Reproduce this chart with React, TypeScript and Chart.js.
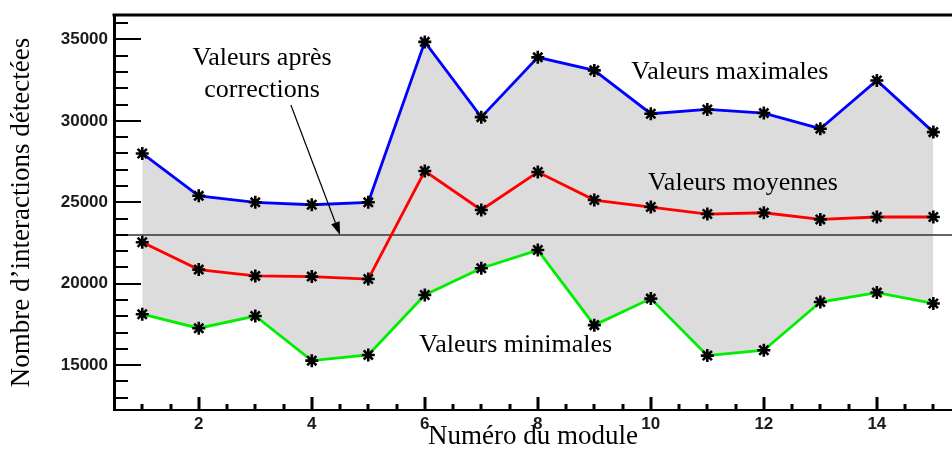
import React, { useEffect, useRef } from "react";
import { Chart, registerables } from "chart.js";

Chart.register(...registerables);

// Module numbers and detected interaction counts per module
const modules = [1, 2, 3, 4, 5, 6, 7, 8, 9, 10, 11, 12, 13, 14, 15];
const maxValues = [28000, 25400, 25000, 24850, 25000, 34850, 30230, 33900, 33100, 30440, 30700, 30480, 29520, 32480, 29310];
const meanValues = [22550, 20870, 20480, 20440, 20290, 26920, 24530, 26860, 25140, 24710, 24280, 24360, 23950, 24100, 24100];
const minValues = [18130, 17270, 18020, 15280, 15630, 19310, 20950, 22070, 17460, 19090, 15590, 15920, 18880, 19460, 18790];

// Axis tick values (labelled and unlabelled)
const xLabelTicks = [2, 4, 6, 8, 10, 12, 14];
const yLabelTicks = [15000, 20000, 25000, 30000, 35000];

// Level of the values after corrections
const correctedLevel = 23000;

const xTitle = "Numéro du module";
const yTitle = "Nombre d’interactions détectées";

// Text annotations placed in data units
const notes = [
  { lines: ["Valeurs après", "corrections"], x: 3.12, y: 33850 },
  { lines: ["Valeurs maximales"], x: 11.4, y: 33000 },
  { lines: ["Valeurs moyennes"], x: 11.63, y: 26180 },
  { lines: ["Valeurs minimales"], x: 7.61, y: 16250 },
];
const arrowFrom = { x: 3.63, y: 30970 };
const arrowTo = { x: 4.5, y: correctedLevel };

const SERIF = "'Liberation Serif', 'Times New Roman', serif";
const SANS = "'Liberation Sans', Arial, sans-serif";

const decorations = {
  id: "decorations",
  beforeDatasetsDraw(chart: any) {
    const { ctx, chartArea, scales } = chart;
    const y = scales.y.getPixelForValue(correctedLevel);
    ctx.save();
    ctx.strokeStyle = "#333";
    ctx.lineWidth = 1.5;
    ctx.beginPath();
    ctx.moveTo(chartArea.left, y);
    ctx.lineTo(chartArea.right, y);
    ctx.stroke();
    ctx.restore();
  },
  afterDatasetsDraw(chart: any) {
    const { ctx, chartArea, scales } = chart;
    const xs = scales.x;
    const ys = scales.y;
    ctx.save();

    // frame top
    ctx.fillStyle = "#000";
    ctx.fillRect(chartArea.left - 1.5, chartArea.top - 1.5, chartArea.right - chartArea.left + 3, 3);

    // y tick marks every 1000, pointing inward
    ctx.strokeStyle = "#000";
    ctx.lineWidth = 2;
    for (let v = Math.ceil(ys.min / 1000) * 1000; v <= ys.max; v += 1000) {
      const py = Math.round(ys.getPixelForValue(v));
      const len = v % 5000 === 0 ? 27 : 14;
      ctx.beginPath();
      ctx.moveTo(chartArea.left, py);
      ctx.lineTo(chartArea.left + len, py);
      ctx.stroke();
    }

    // x tick marks every 0.5, pointing upward
    ctx.lineWidth = 3;
    for (let k = Math.ceil(xs.min * 2); k / 2 <= xs.max; k++) {
      const v = k / 2;
      if (v <= xs.min) continue;
      const px = Math.round(xs.getPixelForValue(v));
      const major = Number.isInteger(v) && v % 2 === 0;
      const len = major ? 13 : 6;
      ctx.beginPath();
      ctx.moveTo(px, chartArea.bottom);
      ctx.lineTo(px, chartArea.bottom - len);
      ctx.stroke();
    }

    // arrow to the corrected level line
    const ax0 = xs.getPixelForValue(arrowFrom.x);
    const ay0 = ys.getPixelForValue(arrowFrom.y);
    const ax1 = xs.getPixelForValue(arrowTo.x);
    const ay1 = ys.getPixelForValue(arrowTo.y);
    const ang = Math.atan2(ay1 - ay0, ax1 - ax0);
    const headLen = 13;
    const headW = 4.5;
    const bx = ax1 - headLen * Math.cos(ang);
    const by = ay1 - headLen * Math.sin(ang);
    ctx.lineWidth = 1.2;
    ctx.beginPath();
    ctx.moveTo(ax0, ay0);
    ctx.lineTo(bx, by);
    ctx.stroke();
    ctx.fillStyle = "#000";
    ctx.beginPath();
    ctx.moveTo(ax1, ay1);
    ctx.lineTo(bx + headW * Math.sin(ang), by - headW * Math.cos(ang));
    ctx.lineTo(bx - headW * Math.sin(ang), by + headW * Math.cos(ang));
    ctx.closePath();
    ctx.fill();

    // text annotations
    ctx.font = `26px ${SERIF}`;
    ctx.textAlign = "center";
    ctx.textBaseline = "middle";
    ctx.fillStyle = "#000";
    notes.forEach((n) => {
      const px = xs.getPixelForValue(n.x);
      const py = ys.getPixelForValue(n.y);
      n.lines.forEach((line, i) => ctx.fillText(line, px, py + i * 32));
    });

    ctx.restore();
  },
};

export default function App() {
  const canvasRef = useRef<HTMLCanvasElement | null>(null);

  useEffect(() => {
    const canvas = canvasRef.current;
    if (!canvas) return;

    const series = (values: number[], color: string, extra: any = {}) => ({
      data: modules.map((m, i) => ({ x: m, y: values[i] })),
      borderColor: color,
      borderWidth: 2.8,
      pointStyle: "star",
      pointRadius: 6.5,
      pointBorderWidth: 2.6,
      pointBorderColor: "#000",
      pointBackgroundColor: "#000",
      tension: 0,
      fill: false,
      ...extra,
    });

    const tickFont = { family: SANS, weight: "bold", size: 17 };

    const chart = new Chart(canvas, {
      type: "line",
      data: {
        datasets: [
          series(maxValues, "#0000ff", { fill: 2, backgroundColor: "#dcdcdc" }),
          series(meanValues, "#ff0000"),
          series(minValues, "#00ee00"),
        ],
      },
      options: {
        responsive: false,
        animation: false,
        devicePixelRatio: 1,
        layout: { autoPadding: false, padding: { top: 15, right: 0, bottom: 0, left: 0 } },
        plugins: {
          legend: { display: false },
          tooltip: { enabled: false },
          filler: { drawTime: "beforeDraw" },
        },
        scales: {
          x: {
            type: "linear",
            min: 0.5,
            max: 15.33,
            grid: { display: false, drawTicks: false },
            border: { display: true, color: "#000", width: 2 },
            afterBuildTicks: (scale: any) => {
              scale.ticks = xLabelTicks.map((v) => ({ value: v }));
            },
            ticks: {
              autoSkip: false,
              maxRotation: 0,
              padding: 4,
              color: "#1a1a1a",
              font: tickFont,
            },
            title: {
              display: true,
              text: xTitle,
              color: "#000",
              font: { family: SERIF, size: 27 },
              padding: { top: 0, bottom: 0 },
            },
            afterFit: (scale: any) => {
              scale.height = 43;
              scale.paddingLeft = 0;
              scale.paddingRight = 0;
            },
          },
          y: {
            type: "linear",
            min: 12250,
            max: 36500,
            grid: { display: false, drawTicks: false },
            border: { display: true, color: "#000", width: 3 },
            afterBuildTicks: (scale: any) => {
              scale.ticks = yLabelTicks.map((v) => ({ value: v }));
            },
            ticks: {
              autoSkip: false,
              padding: 6,
              color: "#1a1a1a",
              font: tickFont,
              callback: (v: any) => String(v),
            },
            title: {
              display: true,
              text: yTitle,
              color: "#000",
              font: { family: SERIF, size: 27 },
              padding: { top: 6, bottom: 0 },
            },
            afterFit: (scale: any) => {
              scale.width = 114;
              scale.paddingTop = 0;
              scale.paddingBottom = 0;
            },
          },
        },
      },
      plugins: [decorations],
    } as any);

    return () => chart.destroy();
  }, []);

  return (
    <div style={{ position: "fixed", left: 0, top: 0, width: 952, height: 453, background: "#fff" }}>
      <canvas ref={canvasRef} width={952} height={453} />
    </div>
  );
}
